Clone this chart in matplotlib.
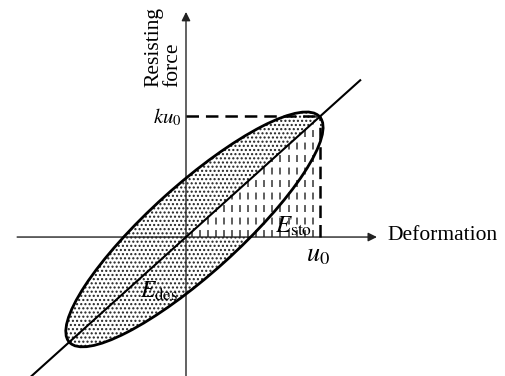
import numpy as np
import matplotlib
matplotlib.use("Agg")
import matplotlib.pyplot as plt
from matplotlib.patches import Ellipse, Polygon

plt.rcParams['font.family'] = ['Liberation Serif', 'DejaVu Serif']
plt.rcParams['mathtext.fontset'] = 'stix'
plt.rcParams['lines.scale_dashes'] = False
plt.rcParams['hatch.color'] = '#222222'
plt.rcParams['hatch.linewidth'] = 1.0

# displacement amplitude and stiffness (force at u0 is k*u0)
u0 = 1.0
k = 0.9

# hysteresis loop: centre, semi-axes, tilt in degrees
loop_center = (0.063, 0.057)
loop_axes = (1.257, 0.331)
loop_angle = 42.0

# extent of the stiffness line and of the two axes
line_x = [-1.25, 1.30]
xaxis_span = [-1.26, 1.425]
yaxis_span = [-1.05, 1.68]

xlabel = "Deformation"
ylabel = "Resisting\nforce"

fig = plt.figure(figsize=(5.06, 3.76), dpi=100)
ax = fig.add_axes([0, 0, 1, 1])
ax.set_xlim(-1.388, 2.388)
ax.set_ylim(-1.037, 1.769)
ax.axis("off")

# dissipated energy: the loop area, dotted
loop_fill = Ellipse(loop_center, 2 * loop_axes[0], 2 * loop_axes[1], angle=loop_angle,
                    facecolor="white", edgecolor="#222222", hatch="....", lw=0, zorder=1)
ax.add_patch(loop_fill)

# stored energy: triangle under the stiffness line, vertical dashes
tri = Polygon([(0, 0), (u0, 0), (u0, k * u0)], closed=True,
              facecolor="white", edgecolor="none", zorder=2)
ax.add_patch(tri)
xs = np.arange(0.045, u0, 0.06)
ax.vlines(xs, 0, k * xs, colors="#333333", linewidth=1.1,
          linestyles=[(0, (5, 4))], zorder=3)

# axes with arrow heads
ax.annotate("", xy=(xaxis_span[1], 0), xytext=(xaxis_span[0], 0),
            arrowprops=dict(arrowstyle="-|>", lw=1.0, color="#222222",
                            mutation_scale=13, shrinkA=0, shrinkB=0), zorder=4)
ax.annotate("", xy=(0, yaxis_span[1]), xytext=(0, yaxis_span[0]),
            arrowprops=dict(arrowstyle="-|>", lw=1.0, color="#222222",
                            mutation_scale=13, shrinkA=0, shrinkB=0), zorder=4)

# guide lines to u0 and k*u0
ax.plot([0, u0], [k * u0, k * u0], color="black", lw=1.8,
        linestyle=(0, (9, 5)), zorder=5)
ax.plot([u0, u0], [0, k * u0], color="black", lw=1.8,
        linestyle=(0, (9, 5)), zorder=5)

# stiffness line and loop outline
lx = np.array(line_x)
ax.plot(lx, k * lx, color="black", lw=1.5, zorder=6)
loop_edge = Ellipse(loop_center, 2 * loop_axes[0], 2 * loop_axes[1], angle=loop_angle,
                    facecolor="none", edgecolor="black", lw=2.0, zorder=6)
ax.add_patch(loop_edge)

# labels
ax.text(1.50, 0.01, xlabel, fontsize=15.5, ha="left", va="center")
ax.text(-0.17, 1.12, ylabel, fontsize=15.5, rotation=90, ha="center", va="bottom",
        multialignment="left", linespacing=1.0)
ax.text(-0.03, 0.85, r"$ku_0$", fontsize=15, ha="right", va="baseline")
ax.text(0.985, -0.06, r"$u_0$", fontsize=19, ha="center", va="top")
ax.text(0.664, 0.03, r"$E_{\rm sto}$", fontsize=18, ha="left", va="baseline", zorder=7)
ax.text(-0.343, -0.455, r"$E_{\rm des}$", fontsize=17, ha="left", va="baseline", zorder=7)

fig.savefig("out.png", dpi=100)
